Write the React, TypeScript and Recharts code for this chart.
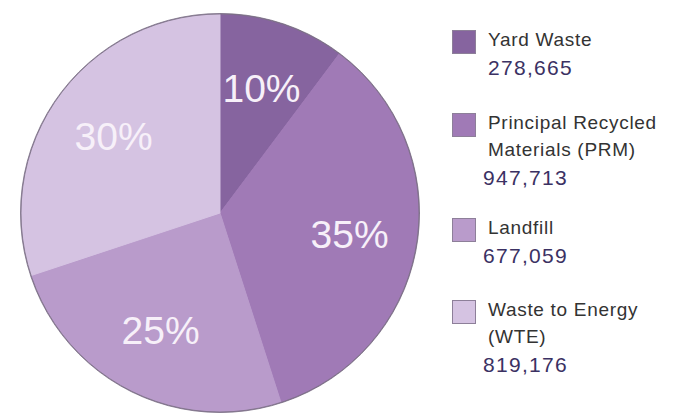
import { PieChart, Pie, Cell, Legend } from "recharts";

const categories = ["Yard Waste", "Principal Recycled Materials (PRM)", "Landfill", "Waste to Energy (WTE)"];
const legendLines = [["Yard Waste"], ["Principal Recycled", "Materials (PRM)"], ["Landfill"], ["Waste to Energy", "(WTE)"]];
const tonnage = [278665, 947713, 677059, 819176];
const colors = ["#86649f", "#a07ab6", "#b99bcb", "#d5c3e2"];

const data = categories.map((name, i) => ({ name, value: tonnage[i] }));
const outline = [{ name: "outline", value: 1 }];

const RAD = Math.PI / 180;
const FONT = "'Liberation Sans', Arial, sans-serif";

const renderLabel = (props: any) => {
  const { cx, cy, midAngle, outerRadius, percent } = props;
  const r = outerRadius * 0.66;
  const x = cx + r * Math.cos(-midAngle * RAD);
  const y = cy + r * Math.sin(-midAngle * RAD);
  return (
    <text x={x} y={y} fill="#f7f0f9" textAnchor="middle" dominantBaseline="central" fontSize={39} fontFamily={FONT}>
      {Math.round(percent * 100)}%
    </text>
  );
};

const itemTops = [30, 113, 218, 300];

const renderLegend = () => (
  <div style={{ position: "relative", width: 227, height: 418, fontFamily: FONT }}>
    {data.map((d, i) => (
      <div key={d.name} style={{ position: "absolute", left: 0, top: itemTops[i], width: 227 }}>
        <div style={{ position: "absolute", left: 0, top: 0, width: 24, height: 24, background: colors[i], border: "1px solid #8d7f99", boxSizing: "border-box" }} />
        <div style={{ position: "absolute", left: 36, top: -4, whiteSpace: "nowrap" }}>
          {legendLines[i].map((line) => (
            <div key={line} style={{ fontSize: 19, lineHeight: "27px", letterSpacing: 0.7, color: "#333" }}>{line}</div>
          ))}
          <div style={{ fontSize: 21, lineHeight: "29px", letterSpacing: 1.3, color: "#3b3163", marginLeft: i === 0 ? 0 : -5 }}>
            {d.value.toLocaleString("en-US")}
          </div>
        </div>
      </div>
    ))}
  </div>
);

export default function App() {
  return (
    <div style={{ position: "absolute", left: 0, top: 0, background: "#fff" }}>
      <PieChart width={679} height={418} margin={{ top: 0, right: 0, bottom: 0, left: 0 }}>
        <Pie
          data={data}
          dataKey="value"
          nameKey="name"
          cx={220}
          cy={213}
          outerRadius={199}
          startAngle={90}
          endAngle={-270}
          label={renderLabel}
          labelLine={false}
          isAnimationActive={false}
        >
          {data.map((d, i) => (
            <Cell key={d.name} fill={colors[i]} stroke={colors[i]} strokeWidth={1} />
          ))}
        </Pie>
        <Pie
          data={outline}
          dataKey="value"
          cx={220}
          cy={213}
          innerRadius={199}
          outerRadius={199.5}
          fill="none"
          stroke="#7a6e84"
          strokeWidth={0.8}
          isAnimationActive={false}
          legendType="none"
        />
        <Legend content={renderLegend} wrapperStyle={{ left: 452, top: 0, width: 227, height: 418 }} />
      </PieChart>
    </div>
  );
}
